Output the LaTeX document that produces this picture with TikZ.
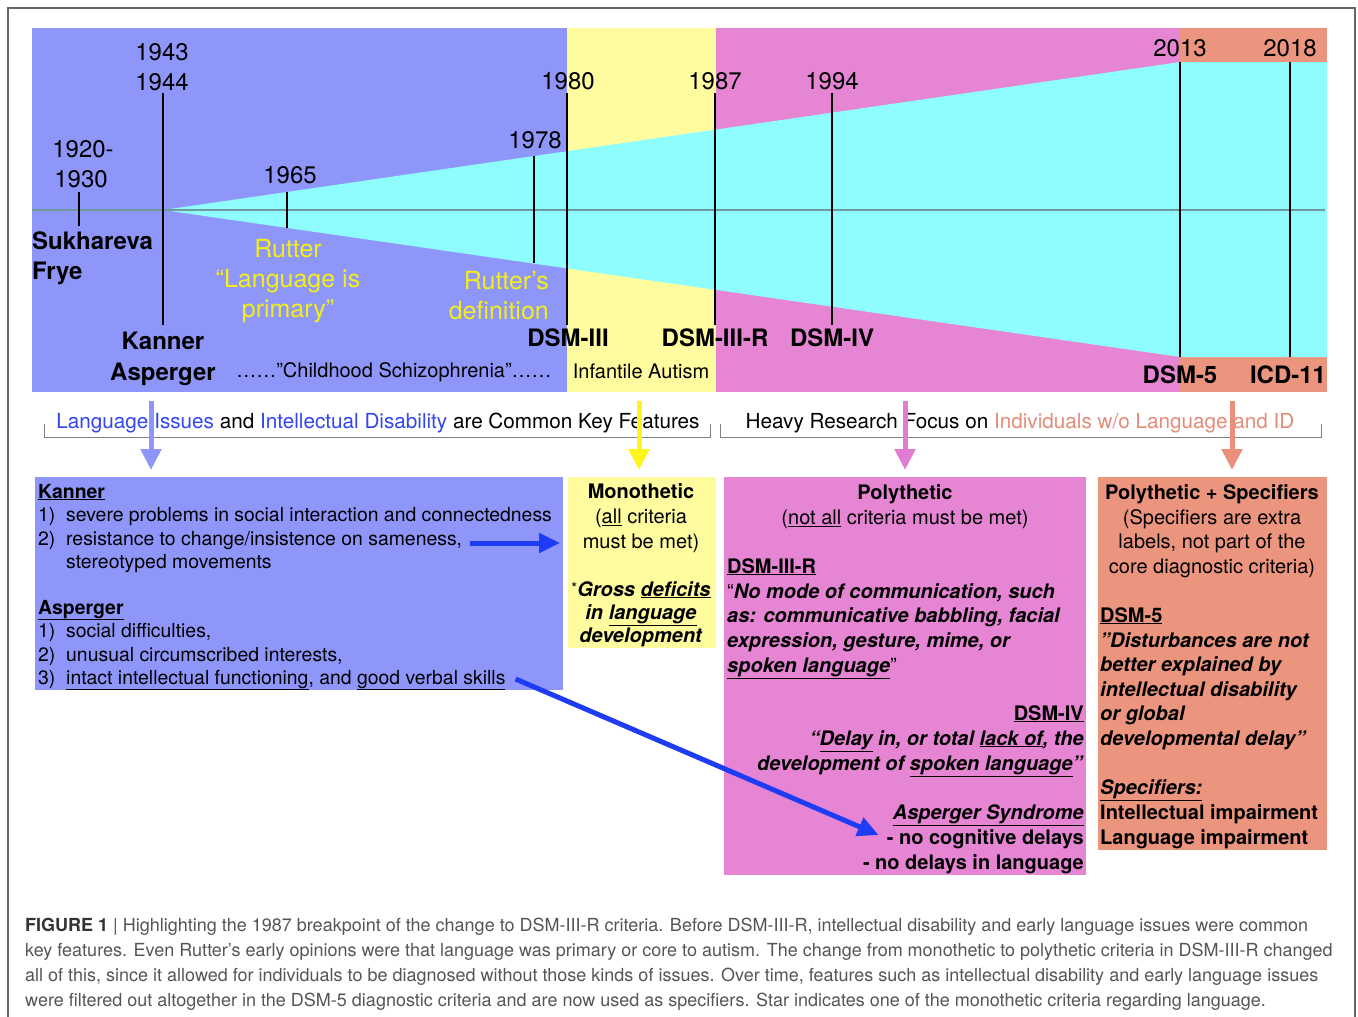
\documentclass[tikz,border=0pt]{standalone}
\usepackage{fontspec}
\setmainfont{TeX Gyre Heros}
\usepackage{tikz}
\usetikzlibrary{arrows.meta}
\definecolor{tlblue}{HTML}{8F96FA}
\definecolor{tlyellow}{HTML}{FFFB9F}
\definecolor{tlpink}{HTML}{E585D3}
\definecolor{tlsalmon}{HTML}{EB957F}
\definecolor{tlcyan}{HTML}{8FFCFD}
\definecolor{horizon}{HTML}{6F9A9C}
\definecolor{ruttercol}{HTML}{F2EE1A}
\definecolor{strongblue}{HTML}{1F3CF5}
\definecolor{textblue}{HTML}{3346F0}
\definecolor{textsalmon}{HTML}{E48C79}
\definecolor{arrowyellow}{HTML}{FFF41C}
\definecolor{arrowpink}{HTML}{E07CD2}
\definecolor{arrowsalmon}{HTML}{E98F7B}
\definecolor{framegray}{HTML}{666666}
\definecolor{captext}{HTML}{555555}
\tikzset{
  year/.style={font=\fontsize{24}{24}\selectfont, inner sep=0pt, anchor=base},
  era/.style={font=\bfseries\fontsize{24}{24}\selectfont, inner sep=0pt, anchor=base},
  yearmark/.style={line width=2.2pt},
  rutter/.style={text=ruttercol, font=\fontsize{25}{25}\selectfont, inner sep=0pt, anchor=base},
  band/.style={font=\fontsize{20.7}{20.7}\selectfont, inner sep=0pt, anchor=base},
  boxtxt/.style={font=\fontsize{19.4}{19.4}\selectfont, inner sep=0pt, anchor=base west},
  crit/.style={font=\fontsize{20}{20}\selectfont, inner sep=0pt},
  panel/.style={anchor=north west, inner sep=0pt, minimum width=#1},
  downarrow/.style={line width=5pt, -{Triangle[width=20pt,length=21pt]}, shorten >=7pt},
  bluearrow/.style={strongblue, line width=5pt, -{Triangle[width=19pt,length=21pt]}},
  caption/.style={font=\fontsize{18}{18}\selectfont, text=captext, inner sep=0pt, anchor=base west}
}

\begin{document}
\begin{tikzpicture}[x=1pt,y=-1pt]
\useasboundingbox (0,0) rectangle (1358,1017);
\fill[white] (0,0) rectangle (1358,1017);
\draw[framegray, line width=1.2pt] (8,1030) |- (1355,8) -- (1355,1030);

% timeline strips
\fill[tlblue] (32,28) rectangle (567,392);
\fill[tlyellow] (567,28) rectangle (716,392);
\fill[tlpink] (716,28) rectangle (1180,392);
\fill[tlsalmon] (1180,28) rectangle (1327,392);
\fill[tlcyan] (163,210) -- (1180,62) -- (1327,62) -- (1327,357) -- (1180,357) -- cycle;
\draw[horizon, line width=1.5pt] (32,210) -- (1325,210);

% year marks
\draw[yearmark] (79,192) -- (79,226);
\draw[yearmark] (163,93) -- (163,325);
\draw[yearmark] (287,192) -- (287,228);
\draw[yearmark] (534,156) -- (534,263);
\draw[yearmark] (567,93) -- (567,325);
\draw[yearmark] (715,93) -- (715,325);
\draw[yearmark] (832,93) -- (832,325);
\draw[yearmark] (1180,62) -- (1180,357);
\draw[yearmark] (1290,62) -- (1290,357);

\node[year] (y1943) at (162,60) {1943};
\node[year] (y1944) at (162,90) {1944};
\node[year] (y1920) at (83,157) {1920-};
\node[year] (y1930) at (81,187) {1930};
\node[year] (y1965) at (290,183) {1965};
\node[year] (y1978) at (535,148) {1978};
\node[year] (y1980) at (568,89) {1980};
\node[year] (y1987) at (715,89) {1987};
\node[year] (y1994) at (832,89) {1994};
\node[year] (y2013) at (1180,56) {2013};
\node[year] (y2018) at (1290,56) {2018};

\node[era, anchor=base west] (sukh) at (32,249) {Sukhareva};
\node[era, anchor=base west] (frye) at (32,279) {Frye};
\node[era] (kanner) at (163,349) {Kanner};
\node[era] (asperger) at (163,380) {Asperger};
\node[era] (dsm3) at (568,346) {DSM-III};
\node[era] (dsm3r) at (715,346) {DSM-III-R};
\node[era] (dsm4) at (832,346) {DSM-IV};
\node[era] (dsm5) at (1180,383) {DSM-5};
\node[era] (icd11) at (1288,383) {ICD-11};

\node[rutter] (rut1) at (288,257) {Rutter};
\node[rutter] (rut2) at (288,287) {“Language is};
\node[rutter] (rut3) at (288,317) {primary”};
\node[rutter, anchor=base east] (rdef1) at (549,289) {Rutter’s};
\node[rutter, anchor=base east] (rdef2) at (549,319) {definition};

\node[band, font=\fontsize{20}{20}\selectfont] (schizo) at (394,377) {……”Childhood Schizophrenia”……};
\node[band, font=\fontsize{20}{20}\selectfont] (infant) at (641,378) {Infantile Autism};

% key feature bands
\node[band] (common) at (378,428) {\textcolor{textblue}{Language Issues} and \textcolor{textblue}{Intellectual Disability} are Common Key Features};
\node[band] (heavy) at (1020,428) {Heavy Research Focus on \textcolor{textsalmon}{Individuals w/o Language and ID}};
\draw[gray, line width=1pt] (44,424) |- (710,437) -- (710,424);
\draw[gray, line width=1pt] (720,424) |- (1321,437) -- (1321,424);

% boxes
\node[panel=528pt, fill=tlblue, minimum height=213pt] (kbox) at (35,477) {};
\node[panel=148pt, fill=tlyellow, minimum height=171pt] (mbox) at (568,477) {};
\node[panel=362pt, fill=tlpink, minimum height=398pt] (pbox) at (724,477) {};
\node[panel=229pt, fill=tlsalmon, minimum height=373pt] (sbox) at (1098,477) {};

\coordinate (s1) at (151,401);
\coordinate (s2) at (639,401);
\coordinate (s3) at (905,401);
\coordinate (s4) at (1232,401);
\draw[downarrow, tlblue] (s1) -- (s1 |- kbox.north);
\draw[downarrow, arrowyellow] (s2) -- (s2 |- mbox.north);
\draw[downarrow, arrowpink] (s3) -- (s3 |- pbox.north);
\draw[downarrow, arrowsalmon] (s4) -- (s4 |- sbox.north);

% Kanner / Asperger
\node[boxtxt] (k0) at (38,498) {\textbf{\underline{Kanner}}};
\node[boxtxt] (k1) at (38,521) {\makebox[28pt][l]{1)}severe problems in social interaction and connectedness};
\node[boxtxt] (k2) at (38,545) {\makebox[28pt][l]{2)}resistance to change/insistence on sameness,};
\node[boxtxt] (k3) at (38,568) {\makebox[28pt][l]{}stereotyped movements};
\node[boxtxt] (a0) at (38,614) {\textbf{\underline{Asperger}}};
\node[boxtxt] (a1) at (38,637) {\makebox[28pt][l]{1)}social difficulties,};
\node[boxtxt] (a2) at (38,661) {\makebox[28pt][l]{2)}unusual circumscribed interests,};
\node[boxtxt] (a3) at (38,684) {\makebox[28pt][l]{3)}\underline{intact intellectual functioning}, and \underline{good verbal skills}};

% monothetic
\node[crit, anchor=base] (m0) at (641,498) {\textbf{Monothetic}};
\node[crit, anchor=base] (m1) at (641,523) {(\underline{all} criteria};
\node[crit, anchor=base] (m2) at (641,548) {must be met)};
\node[crit, anchor=base] (m3) at (641,596) {{\fontsize{15}{15}\selectfont\raisebox{3pt}{*}}\textbf{\textit{Gross \underline{deficits}}}};
\node[crit, anchor=base] (m4) at (641,619) {\textbf{\textit{in \underline{language}}}};
\node[crit, anchor=base] (m5) at (641,642) {\textbf{\textit{development}}};

% polythetic
\node[crit, anchor=base] (p0) at (905,499) {\textbf{Polythetic}};
\node[crit, anchor=base] (p1) at (905,524) {(\underline{not all} criteria must be met)};
\node[crit, anchor=base west] (p2) at (727,573) {\textbf{\underline{DSM-III-R}}};
\node[crit, anchor=base west] (p3) at (727,598) {“\textbf{\textit{No mode of communication, such}}};
\node[crit, anchor=base west] (p4) at (727,622) {\textbf{\textit{as: communicative babbling, facial}}};
\node[crit, anchor=base west] (p5) at (727,647) {\textbf{\textit{expression, gesture, mime, or}}};
\node[crit, anchor=base west] (p6) at (727,672) {\textbf{\textit{\underline{spoken language}}}”};
\node[crit, anchor=base east] (p7) at (1084,720) {\textbf{\underline{DSM-IV}}};
\node[crit, anchor=base east] (p8) at (1084,745) {\textbf{\textit{“\underline{Delay} in, or total \underline{lack of}, the}}};
\node[crit, anchor=base east] (p9) at (1084,770) {\textbf{\textit{development of \underline{spoken language}”}}};
\node[crit, anchor=base east] (p10) at (1084,819) {\textbf{\textit{\underline{Asperger Syndrome}}}};
\node[crit, anchor=base east] (nocog) at (1084,844) {\textbf{- no cognitive delays}};
\node[crit, anchor=base east] (nolang) at (1084,869) {\textbf{- no delays in language}};

% polythetic + specifiers
\node[crit, anchor=base] (q0) at (1212,499) {\textbf{Polythetic + Specifiers}};
\node[crit, anchor=base] (q1) at (1212,524) {(Specifiers are extra};
\node[crit, anchor=base] (q2) at (1212,548) {labels, not part of the};
\node[crit, anchor=base] (q3) at (1212,573) {core diagnostic criteria)};
\node[crit, anchor=base west] (q4) at (1100,622) {\textbf{\underline{DSM-5}}};
\node[crit, anchor=base west] (q5) at (1100,647) {\textbf{\textit{"Disturbances are not}}};
\node[crit, anchor=base west] (q6) at (1100,671) {\textbf{\textit{better explained by}}};
\node[crit, anchor=base west] (q7) at (1100,696) {\textbf{\textit{intellectual disability}}};
\node[crit, anchor=base west] (q8) at (1100,720) {\textbf{\textit{or global}}};
\node[crit, anchor=base west] (q9) at (1100,745) {\textbf{\textit{developmental delay”}}};
\node[crit, anchor=base west] (q10) at (1100,794) {\textbf{\textit{\underline{Specifiers:}}}};
\node[crit, anchor=base west] (q11) at (1100,819) {\textbf{Intellectual impairment}};
\node[crit, anchor=base west] (q12) at (1100,844) {\textbf{Language impairment}};

% blue arrows
\draw[bluearrow] ([xshift=8pt,yshift=2pt]k2.base east) -- ([xshift=-8pt,yshift=2pt]k2.base east -| mbox.west);
\draw[bluearrow] ([xshift=10pt,yshift=5pt]a3.base east) -- ([xshift=-8pt,yshift=9pt]nocog.base west);

% caption
\node[caption] (cap1) at (25,931) {\textcolor{black!80}{\textbf{FIGURE 1}} | Highlighting the 1987 breakpoint of the change to DSM-III-R criteria. Before DSM-III-R, intellectual disability and early language issues were common};
\node[caption] (cap2) at (25,956) {key features. Even Rutter’s early opinions were that language was primary or core to autism. The change from monothetic to polythetic criteria in DSM-III-R changed};
\node[caption] (cap3) at (25,981) {all of this, since it allowed for individuals to be diagnosed without those kinds of issues. Over time, features such as intellectual disability and early language issues};
\node[caption] (cap4) at (25,1006) {were filtered out altogether in the DSM-5 diagnostic criteria and are now used as specifiers. Star indicates one of the monothetic criteria regarding language.};
\end{tikzpicture}
\end{document}
